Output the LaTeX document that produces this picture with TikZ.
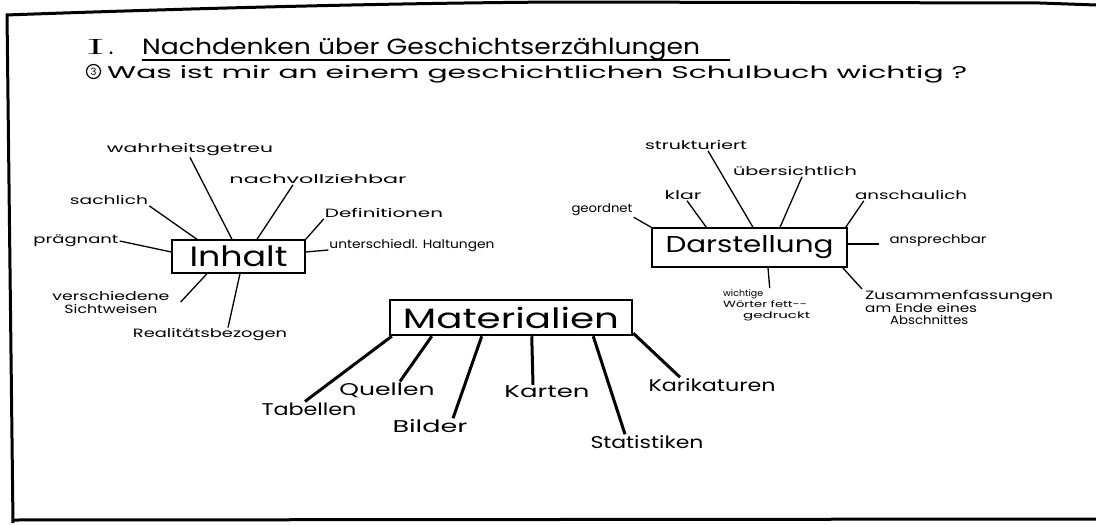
\documentclass[tikz,border=0pt]{standalone}
\usepackage{fontspec}
\setmainfont{Poppins}
\newfontfamily\lmr{Latin Modern Roman}
\usepackage{graphicx}
\newcommand{\fw}[2]{\resizebox{#1pt}{\height}{#2}}
\begin{document}
\begin{tikzpicture}[x=1pt,y=-1pt,
  lbl/.style={inner sep=1pt, font=\fontsize{12}{13}\selectfont},
  tiny/.style={inner sep=1pt, font=\fontsize{9}{11}\selectfont, align=left},
  mlbl/.style={inner sep=1pt, font=\fontsize{17}{18}\selectfont},
  box/.style={draw, line width=1.3pt, inner sep=0pt},
  con/.style={line width=1.3pt},
  tcon/.style={line width=3pt},
  frame/.style={line width=3pt}
  ]
\useasboundingbox (0,0) rectangle (1096,525);
\fill[white] (0,0) rectangle (1096,525);
% frame of the scan
\draw[frame] (6,15) .. controls (200,8) and (400,3) .. (560,2) -- (1040,3) -- (1096,5);
\draw[frame] (7,14) -- (13,523);
\draw[frame] (13,520) -- (1096,519);

% title
\node[anchor=base west, inner sep=0, font=\fontsize{22}{24}\selectfont] (num) at (86,54) {\fw{19}{\lmr I}\,.};
\node[anchor=base west, inner sep=0, font=\fontsize{22}{24}\selectfont] (title) at (142,54) {\fw{558}{Nachdenken über Geschichtserzählungen}};
\draw[line width=1.3pt] ([yshift=-6pt]title.base west) -- ++(588,0);
\node[circle, draw, line width=1.2pt, inner sep=0pt, minimum size=14pt, font=\fontsize{10}{10}\selectfont] (q3) at (93.5,71.5) {3};
\node[anchor=base west, inner sep=0, font=\fontsize{17}{18}\selectfont] (quest) at (107,78) {\fw{860}{Was ist mir an einem geschichtlichen Schulbuch wichtig ?}};

% Inhalt
\node[box, minimum width=133pt, minimum height=33pt, font=\fontsize{28}{28}\selectfont] (inhalt) at (238.5,256.5) {\fw{98}{Inhalt}};
\node[lbl] (wahr) at (190,150) {\fw{166}{wahrheitsgetreu}};
\node[lbl] (nach) at (318,179) {\fw{177}{nachvollziehbar}};
\node[lbl] (sach) at (109,200) {\fw{78}{sachlich}};
\node[lbl] (defi) at (384,213) {\fw{118}{Definitionen}};
\node[lbl] (praeg) at (76,241) {\fw{85}{prägnant}};
\node[lbl] (unter) at (412,246) {\fw{165}{unterschiedl. Haltungen}};
\node[lbl, align=center] (versch) at (111,302) {\fw{117}{verschiedene}\\\fw{93}{Sichtweisen}};
\node[lbl] (real) at (210,335) {\fw{154}{Realitätsbezogen}};
\draw[con] (wahr.south) -- ([xshift=-6.5pt]inhalt.north);
\draw[con] ([xshift=-25pt]nach.south) -- ([xshift=18.5pt]inhalt.north);
\draw[con] (sach.south east) -- ([xshift=-41.5pt]inhalt.north);
\draw[con] (defi.south west) -- (inhalt.north east);
\draw[con] (praeg.east) -- ([yshift=4.5pt]inhalt.west);
\draw[con] ([yshift=-4pt]unter.west) -- ([yshift=4.5pt]inhalt.east);
\draw[con] ([xshift=10pt]versch.east) -- ([xshift=-31.5pt]inhalt.south);
\draw[con] ([xshift=18pt]real.north) -- ([xshift=1.5pt]inhalt.south);

% Darstellung
\node[box, minimum width=195pt, minimum height=39pt, font=\fontsize{23}{23}\selectfont] (dar) at (749.5,247.5) {\fw{168}{Darstellung}};
\node[lbl] (strukt) at (696,145) {\fw{102}{strukturiert}};
\node[lbl] (ueber) at (795,171) {\fw{124}{übersichtlich}};
\node[lbl] (klar) at (683,195) {\fw{37}{klar}};
\node[lbl] (ansch) at (911,195) {\fw{112}{anschaulich}};
\node[lbl] (geo) at (602,210) {\fw{61}{geordnet}};
\node[lbl] (ansp) at (938,241) {\fw{97}{ansprechbar}};
\node[tiny, anchor=north west] (wich) at (722,288) {\fw{40}{wichtige}\\\fw{84}{Wörter fett-{}-}\\\hspace*{20pt}\fw{67}{gedruckt}};
\node[lbl, align=left, anchor=north west, font=\fontsize{12}{12}\selectfont] (zus) at (864,289) {\fw{188}{Zusammenfassungen}\\\fw{112}{am Ende eines}\\\hspace*{25pt}\fw{78}{Abschnittes}};
\draw[con] ([xshift=12pt]strukt.south) -- ([xshift=3.5pt]dar.north);
\draw[con] ([xshift=7pt]ueber.south) -- ([xshift=30.5pt]dar.north);
\draw[con] ([xshift=4pt]klar.south) -- ([xshift=55pt]dar.north west);
\draw[con] ([xshift=10pt]ansch.south west) -- ([xshift=-2pt]dar.north east);
\draw[con] (geo.south east) -- (dar.north west);
\draw[con] ([yshift=3.5pt]dar.east) -- ([xshift=-9pt,yshift=-3pt]ansp.west);
\draw[con] ([xshift=18.5pt]dar.south) -- ([xshift=3pt]wich.north);
\draw[con] ([xshift=-5pt]dar.south east) -- ([xshift=-2pt]zus.north west);

% Materialien
\node[box, line width=2.5pt, minimum width=242pt, minimum height=35pt, font=\fontsize{28}{28}\selectfont] (mat) at (511,317.5) {\fw{216}{Materialien}};
\node[mlbl] (tab) at (309,409) {\fw{95}{Tabellen}};
\node[mlbl] (que) at (387,390) {\fw{95}{Quellen}};
\node[mlbl] (bil) at (430,426) {\fw{75}{Bilder}};
\node[mlbl] (kar) at (547,392) {\fw{85}{Karten}};
\node[mlbl] (stat) at (647,442) {\fw{113}{Statistiken}};
\node[mlbl] (kari) at (712,385) {\fw{127}{Karikaturen}};
\draw[tcon] ([xshift=3pt]mat.south west) -- ([xshift=-4pt]tab.north);
\draw[tcon] ([xshift=43pt]mat.south west) -- ([xshift=13pt]que.north);
\draw[tcon] ([xshift=93pt]mat.south west) -- ([xshift=23pt]bil.north);
\draw[tcon] ([xshift=143pt]mat.south west) -- ([xshift=-14pt]kar.north);
\draw[tcon] ([xshift=-40pt]mat.south east) -- ([xshift=-22pt]stat.north);
\draw[tcon] ([yshift=3pt]mat.south east) -- ([xshift=-32pt]kari.north);
\end{tikzpicture}
\end{document}
